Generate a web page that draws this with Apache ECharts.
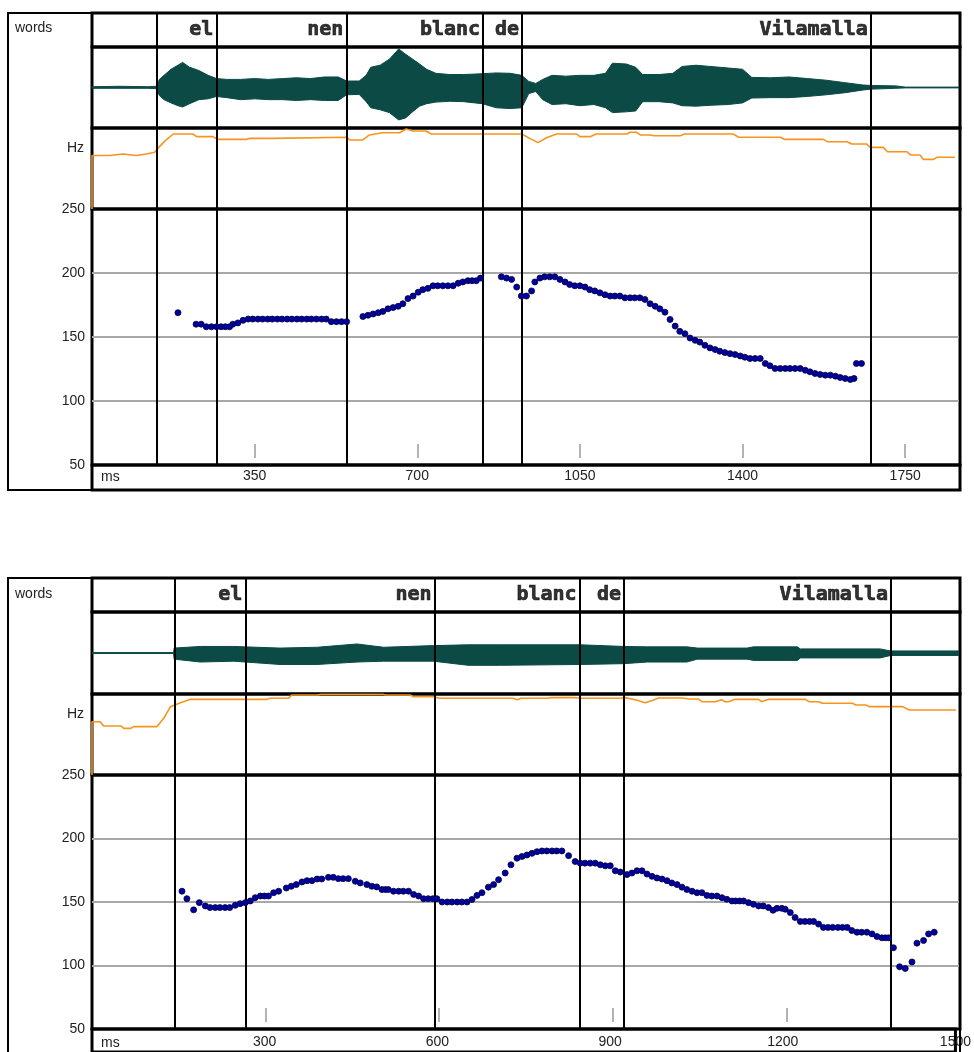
<!DOCTYPE html>
<html><head><meta charset="utf-8">
<script src="https://cdn.jsdelivr.net/npm/echarts@6/dist/echarts.min.js"></script>
<style>html,body{margin:0;padding:0;background:#fff}#c{width:974px;height:1052px}</style>
</head><body><div id="c"></div>
<script>
// ---------------- DATA ----------------
const words = ['el', 'nen', 'blanc', 'de', 'Vilamalla'];

// word boundaries (ms): start of first word, then end of each word
const topBounds = [139.6, 267.5, 547.5, 841.7, 925.7, 1676];
const botBounds = [142.2, 264.9, 592, 842.6, 919.3, 1380.7];

const topTicks = [350, 700, 1050, 1400, 1750];
const botTicks = [300, 600, 900, 1200, 1500];
const pitchTicks = [50, 100, 150, 200, 250];
const topMaxMs = 1868;
const botMaxMs = 1500;

// waveform envelope (ms, upper, lower), relative amplitude
const waveTopT  = [0, 60, 120, 139, 145, 155, 170, 185, 195, 210, 230, 250, 268, 290, 320, 350, 380, 410, 440, 470, 500, 530, 548, 575, 590, 600, 620, 640, 660, 675, 690, 705, 720, 740, 770, 800, 840, 870, 900, 925, 940, 955, 970, 990, 1020, 1050, 1080, 1105, 1120, 1150, 1170, 1185, 1220, 1250, 1270, 1300, 1330, 1370, 1400, 1420, 1460, 1500, 1540, 1580, 1620, 1660, 1680, 1730, 1750, 1868];
const waveTopHi = [0.02, 0.03, 0.02, 0.03, 0.2, 0.3, 0.45, 0.55, 0.62, 0.5, 0.42, 0.3, 0.22, 0.2, 0.2, 0.22, 0.2, 0.22, 0.24, 0.22, 0.26, 0.26, 0.16, 0.16, 0.3, 0.5, 0.55, 0.7, 0.95, 0.82, 0.7, 0.58, 0.45, 0.35, 0.32, 0.32, 0.34, 0.36, 0.35, 0.3, 0.15, 0.1, 0.2, 0.3, 0.28, 0.3, 0.3, 0.35, 0.6, 0.58, 0.5, 0.32, 0.32, 0.35, 0.52, 0.55, 0.52, 0.48, 0.45, 0.25, 0.24, 0.26, 0.22, 0.18, 0.12, 0.06, 0.05, 0.04, 0.01, 0.01];
const waveTopLo = [-0.02, -0.02, -0.02, -0.03, -0.2, -0.3, -0.38, -0.45, -0.48, -0.4, -0.3, -0.28, -0.22, -0.25, -0.3, -0.28, -0.3, -0.3, -0.32, -0.3, -0.32, -0.32, -0.18, -0.17, -0.35, -0.5, -0.55, -0.62, -0.8, -0.75, -0.6, -0.46, -0.4, -0.36, -0.34, -0.35, -0.4, -0.5, -0.52, -0.5, -0.15, -0.1, -0.3, -0.42, -0.4, -0.45, -0.42, -0.5, -0.62, -0.6, -0.58, -0.35, -0.35, -0.38, -0.45, -0.46, -0.44, -0.42, -0.38, -0.26, -0.25, -0.25, -0.22, -0.18, -0.13, -0.06, -0.04, -0.02, -0.01, -0.01];

const waveBotT  = [0, 141, 142, 187, 245, 325, 389, 458, 504, 590, 650, 706, 844, 919, 960, 1028, 1046, 1132, 1143, 1219, 1224, 1362, 1380, 1500];
const waveBotHi = [0.01, 0.01, 0.12, 0.16, 0.16, 0.12, 0.14, 0.22, 0.14, 0.18, 0.2, 0.2, 0.2, 0.16, 0.15, 0.15, 0.12, 0.12, 0.15, 0.15, 0.1, 0.1, 0.05, 0.05];
const waveBotLo = [-0.01, -0.01, -0.15, -0.22, -0.2, -0.28, -0.28, -0.22, -0.2, -0.2, -0.3, -0.3, -0.28, -0.26, -0.22, -0.22, -0.15, -0.15, -0.18, -0.18, -0.12, -0.12, -0.06, -0.06];

// orange contour (ms, relative level 0..100 in its band)
const hzTop = [[0,0],[0,66],[38,66],[38,68],[67,68],[67,66],[95,66],[95,68],[117,68],[117,70],[135,70],[145,77],[159,85],[175,92.6],[217,92.6],[225,89.3],[260,89.3],[270,86],[332,86],[340,87.2],[389,87.2],[392,88.5],[548,88.5],[555,85.2],[583,85.2],[597,91.4],[625,94.2],[662,94.2],[676,98.8],[691,96.3],[719,96.3],[730,92.6],[925,92.6],[942,87.2],[960,81.9],[978,88],[1000,92.6],[1043,92.6],[1050,89.3],[1072,89.3],[1085,92.6],[1151,92.6],[1158,94.7],[1172,94.7],[1180,91.4],[1201,91.4],[1210,90.5],[1266,90.5],[1275,92.6],[1380,92.6],[1392,88.5],[1481,88.5],[1490,86],[1574,86],[1582,83.1],[1625,83.1],[1635,80.2],[1667,80.2],[1675,76.1],[1703,76.1],[1712,70.7],[1754,70.7],[1762,66.6],[1782,66.6],[1789,61.3],[1811,61.3],[1818,63.8],[1857,63.8]];
const hzBot = [[0,0],[0,65.8],[14,65.8],[20,60.5],[50,60.5],[55,57.6],[67,57.6],[72,59.7],[112,59.7],[124,70],[135.5,84.4],[153,89.3],[170,93.4],[302,93.4],[308,94.7],[340,94.7],[345,98.8],[390,98.8],[395,99.5],[504,99.5],[508,98.8],[550,98.8],[555,96.7],[590,96.7],[600,94.7],[728,94.7],[735,93],[741,94.7],[787,94.7],[793,95.5],[833,95.5],[845,94.7],[914,94.7],[921,95.5],[939,93],[956,89.3],[968,92],[979,95],[1020,95],[1031,93.8],[1048,93.8],[1054,90.5],[1077,90.5],[1088,93],[1094,90.5],[1100,90.5],[1111,93.4],[1152,93.4],[1157,90.5],[1169,93.4],[1233,93.4],[1239,90.5],[1256,90.5],[1262,88.5],[1314,88.5],[1320,86.4],[1337,86.4],[1343,84.4],[1401,84.4],[1412,80.2],[1493,80.2]];

// pitch points (ms, Hz)
const pitchTop = [[185,169],
[224,160],[235,160],[246,158],[257,158],[268,158],[278,158],[287,158],[296,158],[303,160],[314,161],[325,163],[336,164],[346,164],[357,164],[367,164],[378,164],[388,164],[399,164],[409,164],[420,164],[430,164],[441,164],[451,164],[462,164],[472,164],[483,164],[494,164],[504,164],[515,162],[526,162],[537,162],[548,162],
[583,166],[594,167],[605,168],[616,169],[626,170],[637,172],[648,173],[659,174],[669,176],[680,180],[691,182],[702,185],[712,187],[723,188],[734,190],[744,190],[755,190],[766,190],[777,190],[788,192],[798,193],[809,194],[818,194],[827,194],[836,196],
[881,197],[892,196],[903,195],[914,189],[924,182],[935,182],[946,186],[953,193],[964,196],[974,197],[985,197],[996,197],[1007,195],[1018,193],[1028,191],[1039,190],[1050,190],[1061,189],[1071,187],[1082,186],[1093,184.5],[1104,183],[1115,182],[1125,182],[1136,182],[1147,180.6],[1158,180.6],[1168,180.6],[1179,180.6],[1190,179.3],[1201,176],[1212,174],[1222,172],[1233,169.4],[1244,163.7],[1255,158.5],[1265,154.4],[1276,152.6],[1287,149.2],[1298,147.4],[1308,146],[1319,143.5],[1330,141.5],[1341,140.2],[1351,138.9],[1362,137.8],[1373,137],[1384,136.3],[1395,135.2],[1405,134.2],[1416,133.2],[1427,133.2],[1438,133.2],[1449,129.3],[1459,127.5],[1470,125.4],[1481,125.4],[1492,125.4],[1502,125.4],[1513,125.4],[1524,125.4],[1535,124],[1545,122.8],[1556,121.5],[1567,120.7],[1578,120.2],[1589,120.2],[1600,119.4],[1610,118.4],[1621,117.6],[1632,116.8],[1640,117.6],[1645,129.3],[1656,129.3]];

const pitchBot = [[155.5,158.5],[164,152.6],[175.6,143.8],[185.4,149.5],[195.8,146.9],[204,145.6],[213,145.6],[221,145.6],[230,145.6],[238,145.6],[247.6,147.4],[256,148.7],[264.9,149.5],[273.5,150.8],[282,153.4],[291,154.7],[298,154.7],[305,154.7],[313.9,157.3],[322.5,158.5],[335.8,161],[344.4,162.4],[353,163.7],[362.9,165.8],[371.5,166.8],[380,166.8],[389,168.1],[397,168.1],[408.5,169.4],[417,169.4],[425.8,168.4],[434,168.4],[443,168.4],[455,166.3],[463.6,165],[475,163.7],[483.5,162.4],[492,161.9],[501,159.8],[507,159.8],[512,159.8],[521,158.5],[530,158.5],[538,158.5],[547,158.5],[555.8,156],[564.4,154.7],[573,152.6],[581,152.6],[589,152.6],[596,152.6],[605,150],[614,150],[622,150],[631,150],[639,150],[648,150],[656.7,152],[665.3,155.2],[673.9,157.3],[685,161.7],[694,163.7],[702.6,167.6],[714,172.8],[724,179.3],[734.4,184.5],[743,185.8],[751.7,187],[760.3,188.3],[769,189.6],[777.6,190.2],[786,190.2],[795,190.2],[803,190.2],[812,190.2],[823.6,186.5],[835,181.9],[843.8,180.6],[852,180.6],[861,180.6],[869.7,180.6],[878.4,179.3],[887,178.5],[895.6,178.5],[904.3,174.6],[913,173.6],[924.5,171.6],[933,172.8],[941.8,174.6],[950.4,174.6],[959,172],[967.7,170.2],[976.3,168.9],[985,168.1],[993.6,166.8],[1002,165],[1011,163.7],[1019.5,161.7],[1028,159.8],[1037,158.5],[1045.5,157.3],[1054,157.3],[1062.7,155.2],[1071,154.7],[1080,154.7],[1088.6,153.4],[1097,152.1],[1106,150.8],[1112,150.8],[1119,150.8],[1126,150.8],[1134.6,149.5],[1143,148.2],[1152,146.9],[1160,146.9],[1169,145.6],[1176.8,143.5],[1183.7,145],[1192,145],[1198,144.3],[1206.7,141.7],[1215,137.8],[1224,134.7],[1232,134.7],[1240,134.7],[1247,134.7],[1255.6,132.6],[1264,130],[1272,130],[1280,130],[1289,130],[1297,130],[1305,130],[1313,127.5],[1322,126.2],[1330,126.2],[1339,126.2],[1348,124.9],[1356.5,122.8],[1365,121.8],[1371,121.8],[1376.6,121.8],[1385,114],[1395.6,99],[1405.4,97.7],[1417,102.8],[1425.6,117.6],[1437,119.7],[1445.7,124.9],[1455.5,126.2]];

// ---------------- LAYOUT ----------------
const layoutTop = {left: 92, width: 868, words: [13, 34], wave: [47, 81], hz: [128, 81], pitch: [209, 256], ms: [465, 25],
  box: [8, 13, 952, 477], wordsLabelY: 28, hzLabelY: 148, msLabelY: 477, msMargin: 4};
const layoutBot = {left: 92, width: 868, words: [578, 34], wave: [612, 82], hz: [694, 81], pitch: [775, 254], ms: [1029, 27],
  box: [8, 578, 952, 480], wordsLabelY: 594, hzLabelY: 714, msLabelY: 1043, msMargin: 6};

const panelTop = {bounds: topBounds, ticks: topTicks, xMax: topMaxMs, waveT: waveTopT, waveHi: waveTopHi, waveLo: waveTopLo, hz: hzTop, pitch: pitchTop};
const panelBot = {bounds: botBounds, ticks: botTicks, xMax: botMaxMs, waveT: waveBotT, waveHi: waveBotHi, waveLo: waveBotLo, hz: hzBot, pitch: pitchBot};

const FONT = 'Liberation Sans';
const WAVE = '#0b4a45';
const ORANGE = '#f7941d';

const option = {animation: false, backgroundColor: '#fff', grid: [], xAxis: [], yAxis: [], series: [], graphic: []};

function build(o, p, L) {
  const g0 = o.grid.length;
  const rows = ['words', 'wave', 'hz', 'pitch', 'ms'];
  rows.forEach(r => o.grid.push({left: L.left, width: L.width, top: L[r][0], height: L[r][1], show: true,
    borderColor: '#000', borderWidth: 3, backgroundColor: 'transparent'}));
  o.grid.push({left: L.left, width: L.width, top: L.words[0], height: L.pitch[0] + L.pitch[1] - L.words[0], show: false});

  for (let i = 0; i < 6; i++) {
    const ax = {type: 'value', gridIndex: g0 + i, min: 0, max: p.xMax, interval: p.ticks[0], show: false,
      splitLine: {show: false}};
    if (i === 3) {
      Object.assign(ax, {show: true, position: 'bottom', offset: -7,
        axisLine: {show: false},
        axisTick: {show: true, inside: true, length: 14, customValues: p.ticks, lineStyle: {color: '#9a9a9a', width: 1.5}},
        axisLabel: {show: false}});
    }
    if (i === 4) {
      Object.assign(ax, {show: true, position: 'top',
        axisLine: {show: false}, axisTick: {show: false},
        axisLabel: {show: true, inside: true, margin: L.msMargin, customValues: p.ticks,
          formatter: v => String(v), fontFamily: FONT, fontSize: 14, color: '#222'}});
    }
    o.xAxis.push(ax);
  }
  const yRanges = [[0, 1], [-1, 1], [0, 100], [50, 250], [0, 1], [0, 1]];
  yRanges.forEach((r, i) => {
    const ay = {type: 'value', gridIndex: g0 + i, min: r[0], max: r[1], show: false, splitLine: {show: false}};
    if (i === 3) {
      Object.assign(ay, {show: true, interval: 50,
        axisLine: {show: false}, axisTick: {show: false},
        axisLabel: {show: true, margin: 7, fontFamily: FONT, fontSize: 14, color: '#222', customValues: pitchTicks,
          formatter: v => String(v)},
        splitLine: {show: true, showMinLine: false, showMaxLine: false, lineStyle: {color: '#a8a8a8', width: 2}}});
    }
    o.yAxis.push(ay);
  });

  // word labels
  o.series.push({type: 'scatter', xAxisIndex: g0, yAxisIndex: g0, symbolSize: 0, silent: true,
    data: words.map((w, i) => ({name: w, value: [p.bounds[i + 1], 0.5]})),
    label: {show: true, position: 'left', distance: 3, formatter: '{b}',
      fontFamily: 'DejaVu Sans Mono', fontWeight: 'bold', fontSize: 20, color: '#000',
      textBorderColor: '#000', textBorderWidth: 0.7}});

  // waveform envelope
  o.series.push({type: 'custom', xAxisIndex: g0 + 1, yAxisIndex: g0 + 1, silent: true, data: [[0, 0]],
    renderItem: function (params, api) {
      const pts = [];
      for (let i = 0; i < p.waveT.length; i++) pts.push(api.coord([p.waveT[i], p.waveHi[i]]));
      for (let i = p.waveT.length - 1; i >= 0; i--) pts.push(api.coord([p.waveT[i], p.waveLo[i]]));
      return {type: 'polygon', shape: {points: pts}, style: {fill: WAVE, stroke: WAVE, lineWidth: 1}};
    },
    markLine: {silent: true, symbol: 'none', label: {show: false},
      lineStyle: {color: WAVE, width: 1, type: 'solid'}, data: [{yAxis: 0}]}});

  // orange contour
  o.series.push({type: 'line', xAxisIndex: g0 + 2, yAxisIndex: g0 + 2, data: p.hz, showSymbol: false, silent: true,
    lineStyle: {color: ORANGE, width: 1.6}});

  // word boundaries
  o.series.push({type: 'line', xAxisIndex: g0 + 5, yAxisIndex: g0 + 5, data: [], silent: true, z: 3,
    markLine: {silent: true, symbol: 'none', label: {show: false},
      lineStyle: {color: '#000', width: 2, type: 'solid'},
      data: p.bounds.map(b => ({xAxis: b}))}});

  // pitch points
  o.series.push({type: 'scatter', xAxisIndex: g0 + 3, yAxisIndex: g0 + 3, data: p.pitch, symbolSize: 6, z: 5,
    itemStyle: {color: '#0000a0', borderColor: '#00003c', borderWidth: 0.8, opacity: 1}});

  // frame and side labels
  o.graphic.push({type: 'rect', shape: {x: L.box[0], y: L.box[1], width: L.box[2], height: L.box[3]},
    style: {fill: 'none', stroke: '#000', lineWidth: 2}, silent: true, z: 100});
  o.graphic.push({type: 'text', x: 15, y: L.wordsLabelY, style: {text: 'words', font: '14px ' + FONT, fill: '#222', textVerticalAlign: 'middle'}});
  o.graphic.push({type: 'text', x: 84, y: L.hzLabelY, style: {text: 'Hz', font: '14px ' + FONT, fill: '#222', textAlign: 'right', textVerticalAlign: 'middle'}});
  o.graphic.push({type: 'text', x: 101, y: L.msLabelY, style: {text: 'ms', font: '14px ' + FONT, fill: '#222', textVerticalAlign: 'middle'}});
}

build(option, panelTop, layoutTop);
build(option, panelBot, layoutBot);

const chart = echarts.init(document.getElementById('c'), null, {renderer: 'canvas'});
chart.setOption(option);
</script></body></html>
